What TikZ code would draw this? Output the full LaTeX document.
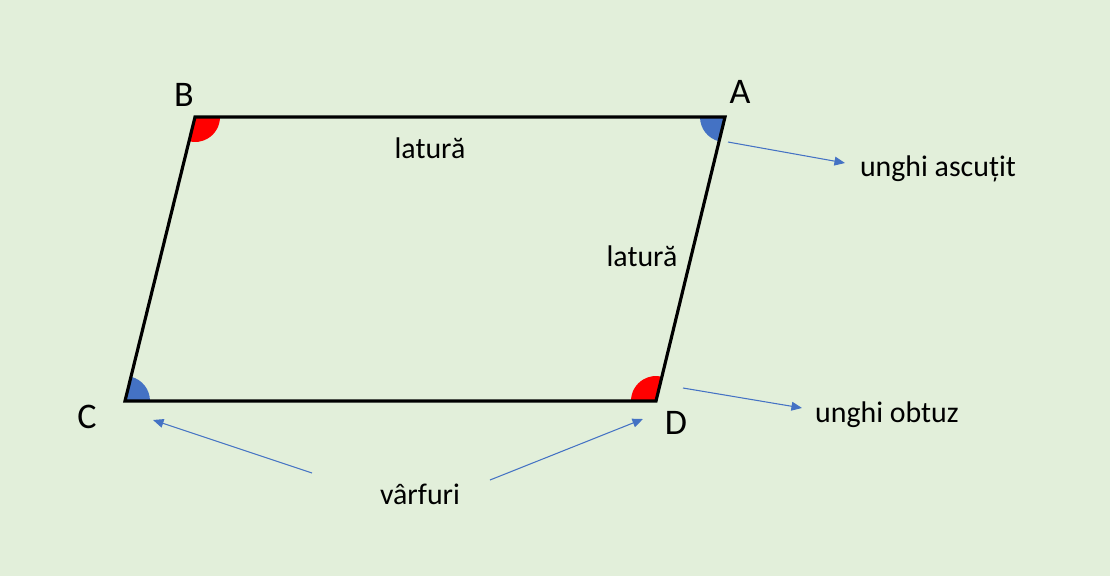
\documentclass[tikz,border=0pt]{standalone}
\usepackage{fontspec}
\setmainfont{Carlito}
\usetikzlibrary{arrows.meta, positioning}
\definecolor{bggreen}{HTML}{E2EFDA}
\definecolor{markblue}{HTML}{4472C4}
\definecolor{markred}{HTML}{FF0000}

\begin{document}
\begin{tikzpicture}[
    x=0.02cm, y=-0.02cm,
    vertex/.style={font=\fontsize{20.5}{24}\selectfont, inner sep=0pt},
    label/.style={font=\fontsize{17}{20}\selectfont, inner sep=0pt},
    side/.style={line width=1.8pt, line join=miter},
    pointer/.style={-{Triangle[length=6pt, width=5pt]}, color=markblue, line width=0.6pt}
]
    % Background
    \fill[bggreen] (0,0) rectangle (1110,576);
    \useasboundingbox (0,0) rectangle (1110,576);

    % Corners of the parallelogram
    \coordinate (A) at (725,117);
    \coordinate (B) at (195,117);
    \coordinate (C) at (125,401);
    \coordinate (D) at (656,401);

    % Angle marks
    \fill[markblue] (A) -- ++(180:25) arc[start angle=180, end angle=256.3, radius=25pt*0.02/0.03514] -- cycle;
    \fill[markred] (B) -- ++(0:25) arc[start angle=0, end angle=-103.8, radius=25pt*0.02/0.03514] -- cycle;
    \fill[markblue] (C) -- ++(0:25) arc[start angle=0, end angle=76.2, radius=25pt*0.02/0.03514] -- cycle;
    \fill[markred] (D) -- ++(180:25) arc[start angle=180, end angle=76.3, radius=25pt*0.02/0.03514] -- cycle;

    % Sides
    \draw[side] (A) -- (B) -- (C) -- (D) -- cycle;

    % Vertex names
    \node (nB) [vertex] at (184,95) {B};
    \node (nA) [vertex] at (740,92) {A};
    \node (nC) [vertex] at (87,417) {C};
    \node (nD) [vertex] at (676,423) {D};

    % Side labels
    \node (top) [label] at (430,148) {latură};
    \node (right) [label] at (642,256) {latură};

    % Angle and vertex labels
    \node (acute) [label] at (938,169) {unghi ascuțit};
    \node (obtuse) [label] at (887,415) {unghi obtuz};
    \node (tips) [label] at (420,494) {vârfuri};

    % Pointer ends
    \coordinate (acuteS) at (728,142);
    \coordinate (acuteE) at (845,163);
    \coordinate (obtuseS) at (683,388);
    \coordinate (obtuseE) at (802,408);
    \coordinate (tipsL) at (312,473);
    \coordinate (tipsR) at (490,480);
    \coordinate (toC) at (153,420);
    \coordinate (toD) at (643,419);

    \draw[pointer] (acuteS) -- (acuteE);
    \draw[pointer] (obtuseS) -- (obtuseE);
    \draw[pointer] (tipsL) -- (toC);
    \draw[pointer] (tipsR) -- (toD);
\end{tikzpicture}
\end{document}
